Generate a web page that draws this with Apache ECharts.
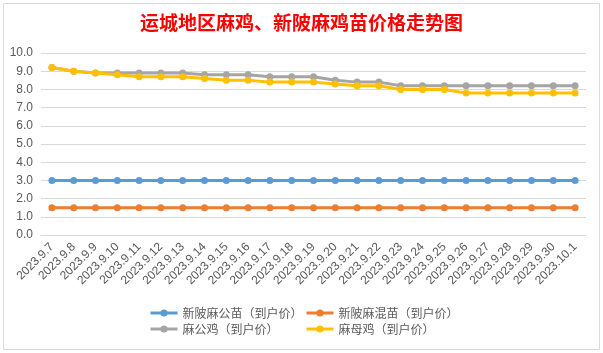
<!DOCTYPE html>
<html>
<head>
<meta charset="utf-8">
<script src="https://cdn.jsdelivr.net/npm/echarts@6/dist/echarts.min.js"></script>
<style>
  html, body { margin: 0; padding: 0; background: #fff; }
  #chart { width: 603px; height: 353px; }
</style>
</head>
<body>
<div id="chart"></div>
<script>
// 日期
const dates = ['2023.9.7', '2023.9.8', '2023.9.9', '2023.9.10', '2023.9.11', '2023.9.12', '2023.9.13',
  '2023.9.14', '2023.9.15', '2023.9.16', '2023.9.17', '2023.9.18', '2023.9.19', '2023.9.20', '2023.9.21',
  '2023.9.22', '2023.9.23', '2023.9.24', '2023.9.25', '2023.9.26', '2023.9.27', '2023.9.28', '2023.9.29',
  '2023.9.30', '2023.10.1']

// 价格（元）
const maleChick = [3.0, 3.0, 3.0, 3.0, 3.0, 3.0, 3.0, 3.0, 3.0, 3.0, 3.0, 3.0, 3.0, 3.0, 3.0, 3.0, 3.0, 3.0, 3.0, 3.0, 3.0, 3.0, 3.0, 3.0, 3.0]
const mixedChick = [1.5, 1.5, 1.5, 1.5, 1.5, 1.5, 1.5, 1.5, 1.5, 1.5, 1.5, 1.5, 1.5, 1.5, 1.5, 1.5, 1.5, 1.5, 1.5, 1.5, 1.5, 1.5, 1.5, 1.5, 1.5]
const rooster = [9.2, 9.0, 8.9, 8.9, 8.9, 8.9, 8.9, 8.8, 8.8, 8.8, 8.7, 8.7, 8.7, 8.5, 8.4, 8.4, 8.2, 8.2, 8.2, 8.2, 8.2, 8.2, 8.2, 8.2, 8.2]
const hen = [9.2, 9.0, 8.9, 8.8, 8.7, 8.7, 8.7, 8.6, 8.5, 8.5, 8.4, 8.4, 8.4, 8.3, 8.2, 8.2, 8.0, 8.0, 8.0, 7.8, 7.8, 7.8, 7.8, 7.8, 7.8]

const seriesNames = ['新陂麻公苗（到户价）', '新陂麻混苗（到户价）', '麻公鸡（到户价）', '麻母鸡（到户价）']
const colors = ['#5B9BD5', '#ED7D31', '#A5A5A5', '#FFC000']

const font = 'Noto Sans CJK SC, sans-serif'

const chart = echarts.init(document.getElementById('chart'), null, { renderer: 'canvas' })

function lineSeries(i, data) {
  return {
    name: seriesNames[i], type: 'line', data,
    symbol: 'circle', symbolSize: 7,
    lineStyle: { width: 3, color: colors[i] },
    itemStyle: { color: colors[i] },
    z: 2 + i,
  }
}

const legendCommon = {
  orient: 'vertical', top: 302, padding: 5, itemGap: 4, itemWidth: 27, itemHeight: 9,
  lineStyle: { width: 3 },
  textStyle: { color: '#595959', fontSize: 12, fontFamily: font },
}

chart.setOption({
  backgroundColor: '#fff',
  animation: false,
  color: colors,
  title: {
    text: '运城地区麻鸡、新陂麻鸡苗价格走势图',
    left: 'center', top: 8,
    textStyle: { color: '#FF0000', fontSize: 19, fontWeight: 'bold', fontFamily: font },
  },
  legend: [
    { ...legendCommon, left: 144, data: [seriesNames[0], seriesNames[2]] },
    { ...legendCommon, left: 300, data: [seriesNames[1], seriesNames[3]] },
  ],
  grid: { left: 41, right: 17, top: 53, height: 182 },
  xAxis: {
    type: 'category', data: dates, boundaryGap: true,
    axisLine: { lineStyle: { color: '#D9D9D9' } },
    axisTick: { show: false },
    axisLabel: { rotate: 45, interval: 0, color: '#595959', fontSize: 12, fontFamily: 'Liberation Sans, sans-serif', margin: 10 },
  },
  yAxis: {
    type: 'value', min: 0, max: 10, interval: 1,
    axisLine: { show: false }, axisTick: { show: false },
    axisLabel: { color: '#595959', fontSize: 12, fontFamily: 'Liberation Sans, sans-serif', margin: 8, formatter: v => v.toFixed(1) },
    splitLine: { lineStyle: { color: '#D9D9D9' } },
  },
  graphic: [{
    type: 'rect', silent: true, z: -1,
    shape: { x: 3.5, y: 3.5, width: 596, height: 346 },
    style: { fill: 'none', stroke: '#D9D9D9', lineWidth: 1 },
  }],
  series: [
    lineSeries(0, maleChick),
    lineSeries(1, mixedChick),
    lineSeries(2, rooster),
    lineSeries(3, hen),
  ],
})
</script>
</body>
</html>
